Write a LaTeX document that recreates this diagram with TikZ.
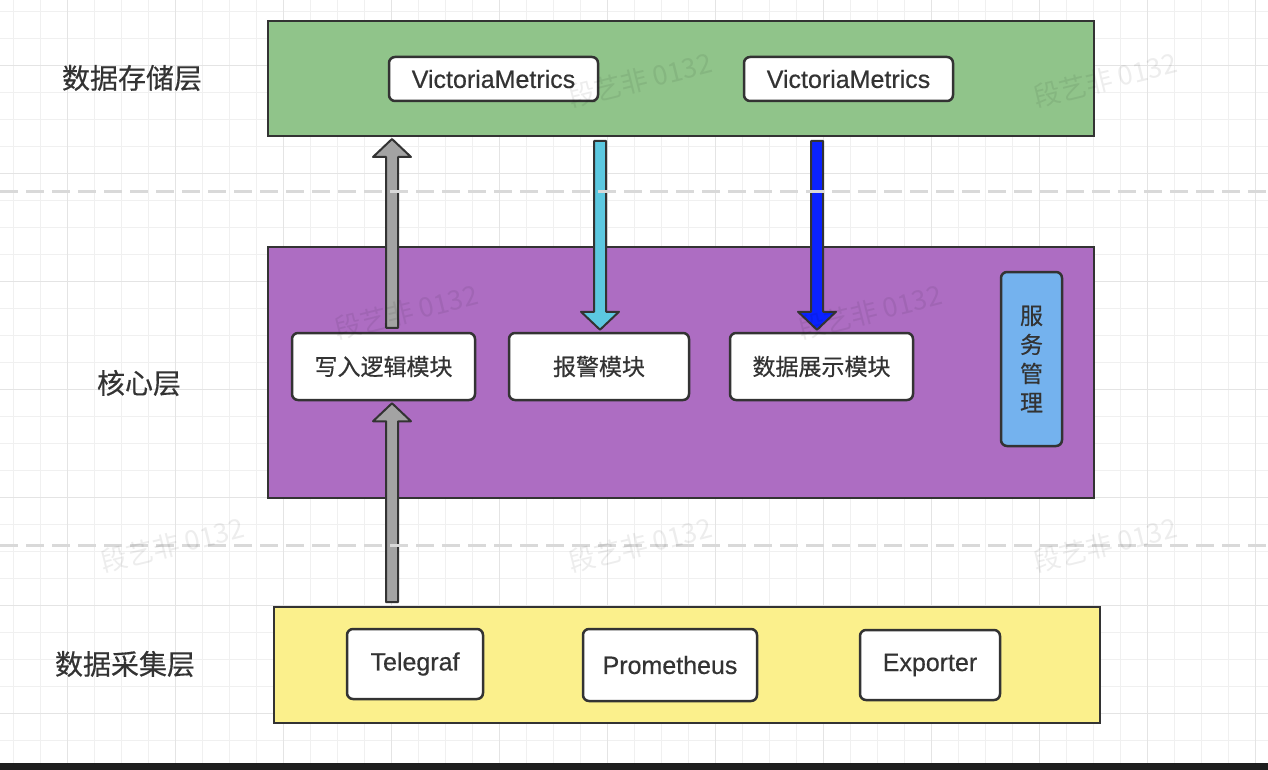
\documentclass[tikz,border=0pt]{standalone}
\usepackage{fontspec}
\setmainfont{Liberation Sans}
\newfontfamily\medlatin{Liberation Sans}[FakeBold=0.5]
\newfontfamily\cjk{Noto Sans CJK SC}
\newfontfamily\medcjk{Noto Sans CJK SC}[FakeBold=0.4]
\usetikzlibrary{calc}
\definecolor{edgec}{HTML}{333333}
\definecolor{txtc}{HTML}{333333}
\definecolor{greenc}{HTML}{90C48A}
\definecolor{purplec}{HTML}{AD6DC2}
\definecolor{yellowc}{HTML}{FBF08C}
\definecolor{svcc}{HTML}{74B2EE}
\definecolor{grayarr}{HTML}{A3A3A3}
\definecolor{cyanarr}{HTML}{5CC8E0}
\definecolor{bluearr}{HTML}{0A22FF}
\definecolor{gridminor}{HTML}{F0F0F0}
\definecolor{gridmajor}{HTML}{E4E4E4}
\definecolor{dashc}{HTML}{D9D9D9}
\definecolor{stripc}{HTML}{1E1E1E}
\tikzset{
  layerbox/.style={draw=edgec, line width=2pt, minimum width=826pt, inner sep=0pt},
  itembox/.style={draw=edgec, line width=2.5pt, rounded corners=6pt, fill=white, inner sep=0pt, text=txtc},
  latin/.style={font=\medlatin\fontsize{25}{28}\selectfont},
  zh/.style={font=\medcjk\fontsize{23}{28}\selectfont},
  layerlabel/.style={font=\medcjk\fontsize{28}{32}\selectfont, text=txtc},
  blockarrow/.style={draw=edgec, line width=2pt, line join=round},
  wm/.style={font=\cjk\fontsize{27}{30}\selectfont, text=black, text opacity=0.07, rotate=14},
  sepline/.style={draw=dashc, line width=3pt, dash pattern=on 18pt off 8pt}
}
% #1 x-reference node, #2 tail anchor, #3 tip anchor, #4 x offset, #5 sign (1 up, -1 down), #6 fill
\newcommand\blkarrow[6]{%
  \draw[blockarrow, fill=#6] let \p3=(#1), \p1=(#2), \p2=(#3) in
    ({\x3+(#4)*1pt-6pt},{\y1+(#5)*4pt}) --
    ({\x3+(#4)*1pt-6pt},{\y2-(#5)*20pt}) --
    ({\x3+(#4)*1pt-19pt},{\y2-(#5)*20pt}) --
    ({\x3+(#4)*1pt},{\y2-(#5)*2pt}) --
    ({\x3+(#4)*1pt+19pt},{\y2-(#5)*20pt}) --
    ({\x3+(#4)*1pt+6pt},{\y2-(#5)*20pt}) --
    ({\x3+(#4)*1pt+6pt},{\y1+(#5)*4pt}) -- cycle;}
\begin{document}
\begin{tikzpicture}[x=1pt,y=-1pt]
\useasboundingbox (0,0) rectangle (1268,770);
\fill[white] (0,0) rectangle (1268,770);
% grid
\foreach \i in {0,...,46}{\draw[gridminor, line width=1pt] ({13.3+27*\i},0) -- ({13.3+27*\i},770);}
\foreach \j in {0,...,28}{\draw[gridminor, line width=1pt] (0,{11.7+27*\j}) -- (1268,{11.7+27*\j});}
\foreach \i in {2,6,...,46}{\draw[gridmajor, line width=1.3pt] ({13.3+27*\i},0) -- ({13.3+27*\i},770);}
\foreach \j in {2,6,...,26}{\draw[gridmajor, line width=1.3pt] (0,{11.7+27*\j}) -- (1268,{11.7+27*\j});}

% layer labels
\node[layerlabel] (lstore) at (132,78) {数据存储层};
\node[layerlabel] (lcore) at (139,383) {核心层};
\node[layerlabel] (lcollect) at (125,664) {数据采集层};

% layer boxes
\node[layerbox, fill=greenc, minimum height=115pt] (store) at (681,78.5) {};
\node[layerbox, fill=purplec, minimum height=251pt] (core) at (681,372.5) {};
\node[layerbox, fill=yellowc, minimum height=116pt] (collect) at (687,665) {};

% storage items
\node[itembox, latin, minimum width=209pt, minimum height=44pt] (vm1) at (493.5,79) {VictoriaMetrics};
\node[itembox, latin, minimum width=209pt, minimum height=44pt] (vm2) at (848.5,79) {VictoriaMetrics};

% core items
\node[itembox, zh, minimum width=183pt, minimum height=67pt] (write) at (383.5,366.5) {写入逻辑模块};
\node[itembox, zh, minimum width=180pt, minimum height=67pt] (alarm) at (599,366.5) {报警模块};
\node[itembox, zh, minimum width=183pt, minimum height=67pt] (show) at (821.5,366.5) {数据展示模块};
\node[itembox, fill=svcc, minimum width=61pt, minimum height=174pt, align=center, font=\medcjk\fontsize{23}{29}\selectfont] (svc) at (1031.5,359) {服\\务\\管\\理};

% collection items
\node[itembox, latin, minimum width=136pt, minimum height=70pt] (tele) at (415,664) {Telegraf};
\node[itembox, latin, minimum width=174pt, minimum height=72pt] (prom) at (670,665) {Prometheus};
\node[itembox, latin, minimum width=140pt, minimum height=70pt] (expo) at (930,665) {Exporter};

% block arrows
\blkarrow{write.south}{collect.north}{write.south}{8.5}{1}{grayarr}
\blkarrow{write.north}{write.north}{store.south}{8.5}{1}{grayarr}
\blkarrow{alarm.north}{store.south}{alarm.north}{1}{-1}{cyanarr}
\blkarrow{show.north}{store.south}{show.north}{-4.5}{-1}{bluearr}

% dashed separators
\coordinate (s1l) at (0,191.7);
\coordinate (s1r) at (1268,191.7);
\coordinate (s2l) at (0,545);
\coordinate (s2r) at (1268,545);
\draw[sepline] (s1l) -- (s1r);
\draw[sepline] (s2l) -- (s2r);

% watermarks
\node[wm] (wm2) at (640,80) {段艺非 0132};
\node[wm] (wm3) at (1105,80) {段艺非 0132};
\node[wm] (wm4) at (406,312) {段艺非 0132};
\node[wm] (wm5) at (870,312) {段艺非 0132};
\node[wm] (wm6) at (172,545) {段艺非 0132};
\node[wm] (wm7) at (640,545) {段艺非 0132};
\node[wm] (wm8) at (1105,545) {段艺非 0132};

% bottom strip
\fill[stripc] (0,763) rectangle (1268,770);
\end{tikzpicture}
\end{document}
